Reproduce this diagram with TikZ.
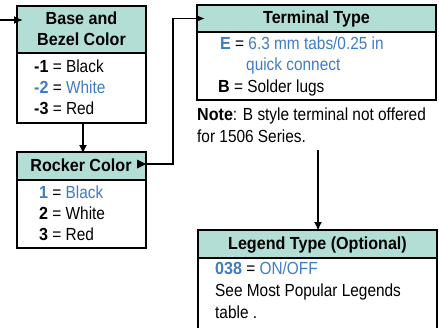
\documentclass[tikz,border=0pt]{standalone}
\usepackage{fontspec}
\setmainfont{Liberation Sans}[UprightFeatures={FakeStretch=0.88}, BoldFeatures={FakeStretch=0.92}]
\usetikzlibrary{arrows.meta}
\definecolor{hdrfill}{HTML}{B2DED6}
\definecolor{optblue}{HTML}{3F7CC4}
\tikzset{
 hdrbox/.style={draw=black, line width=1.2pt, fill=hdrfill, anchor=north west, inner sep=0pt, outer sep=0pt},
 bodybox/.style={draw=black, line width=1.2pt, fill=white, anchor=north west, inner sep=0pt, outer sep=0pt},
 hdrtext/.style={font=\bfseries\fontsize{17.5}{21}\selectfont, anchor=base, inner sep=0pt},
 bodytext/.style={font=\fontsize{17.5}{21}\selectfont, anchor=base west, inner sep=0pt},
 conn/.style={line width=1.8pt},
 tipend/.style={-{Latex[length=9pt,width=8pt]}},
}
\begin{document}
\begin{tikzpicture}[x=1pt,y=-1pt]
\useasboundingbox (0,0) rectangle (439,327);
% Base and Bezel Color
\node[bodybox, minimum width=129pt, minimum height=70pt] (basebody) at (17,53) {};
\node[hdrbox, minimum width=129pt, minimum height=47pt] (basehdr) at (17,6) {};
\node[hdrtext] (basettl1) at (81.5,24) {Base and};
\node[hdrtext] (basettl2) at (81.5,45) {Bezel Color};
\node[bodytext] (base1) at (34,72) {\textbf{-1} = Black};
\node[bodytext, text=optblue] (base2) at (34,93) {\textbf{-2} \textcolor{black}{=} White};
\node[bodytext] (base3) at (34,114) {\textbf{-3} = Red};
% Rocker Color
\node[bodybox, minimum width=129pt, minimum height=68pt] (rockbody) at (17,180) {};
\node[hdrbox, minimum width=129pt, minimum height=28pt] (rockhdr) at (17,152) {};
\node[hdrtext] (rockttl) at (81,171) {Rocker Color};
\node[bodytext, text=optblue] (rock1) at (39,198) {\textbf{1} \textcolor{black}{=} Black};
\node[bodytext] (rock2) at (39,219) {\textbf{2} = White};
\node[bodytext] (rock3) at (39,240) {\textbf{3} = Red};
% Terminal Type
\node[bodybox, minimum width=239pt, minimum height=68pt] (termbody) at (197,32) {};
\node[hdrbox, minimum width=239pt, minimum height=27pt] (termhdr) at (197,5) {};
\node[hdrtext] (termttl) at (316.5,23.5) {Terminal Type};
\node[bodytext, text=optblue] (term1) at (220,49) {\textbf{E} \textcolor{black}{=} 6.3 mm tabs/0.25 in};
\node[bodytext, text=optblue] (term1b) at (246,70.5) {quick connect};
\node[bodytext] (term2) at (218,92) {\textbf{B} = Solder lugs};
\node[bodytext] (note1) at (197,120) {\textbf{Note}: B style terminal not offered};
\node[bodytext] (note2) at (197,142) {for 1506 Series.};
% Legend Type
\node[bodybox, minimum width=239pt, minimum height=80pt] (legbody) at (198,258) {};
\node[hdrbox, minimum width=239pt, minimum height=28pt] (leghdr) at (198,230) {};
\node[hdrtext] (legttl) at (317.5,249.5) {Legend Type (Optional)};
\node[bodytext, text=optblue] (leg1) at (215,274) {\textbf{038} \textcolor{black}{=} ON/OFF};
\node[bodytext] (leg2) at (215,296) {See Most Popular Legends};
\node[bodytext] (leg3) at (215,318) {table .};
% connectors
\coordinate (inA) at (0,20);
\draw[conn,tipend] (inA) -- ([xshift=6pt]inA -| basehdr.west);
\draw[conn,tipend] ([xshift=1.5pt]basebody.south) -- ([xshift=1.5pt,yshift=-2pt]rockhdr.north);
\coordinate (rockout) at ([yshift=2pt]rockhdr.east);
\fill (rockout) -- ++(-9,-4.5) -- ++(0,9) -- cycle;
\draw[conn,tipend] (rockout) -- ++(27,0) |- ([xshift=8pt]termhdr.west);
\coordinate (noteout) at (318,150);
\draw[conn,tipend] (noteout) -- ([yshift=-1pt]noteout |- leghdr.north);
\end{tikzpicture}
\end{document}
